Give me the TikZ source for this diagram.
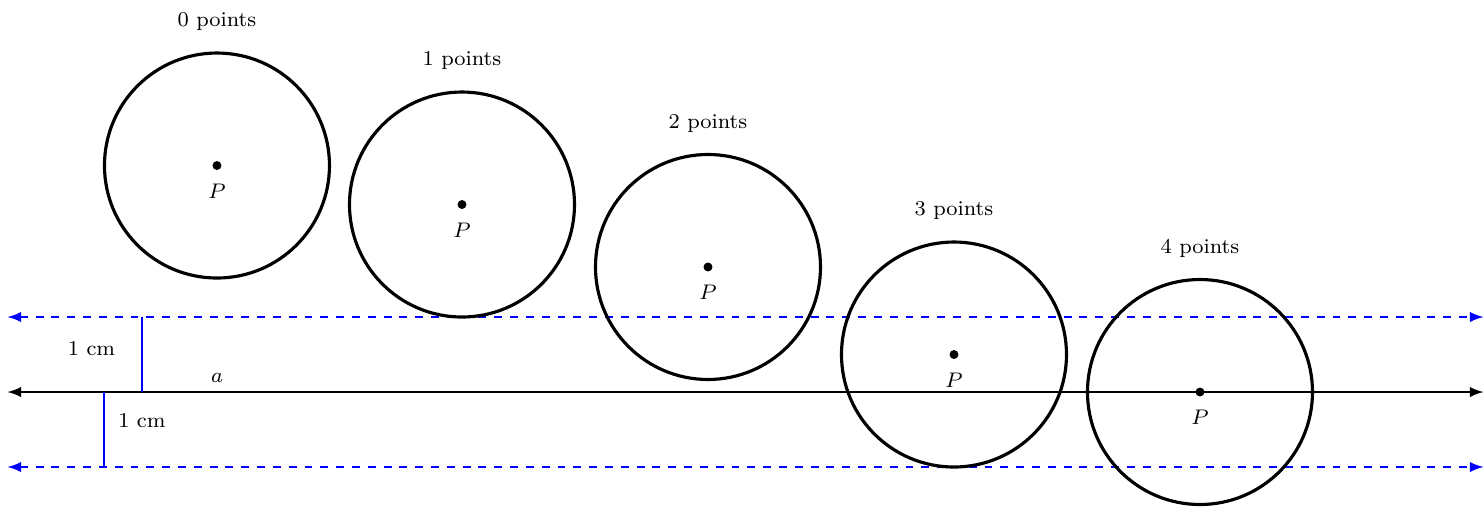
\documentclass[tikz,border=0pt]{standalone}
\usepackage{xcolor}
\usepackage{tikz}
\usetikzlibrary{positioning}
\definecolor{guideblue}{HTML}{0000FF}
\newcommand{\pointcount}[1]{{\footnotesize #1 points}}
\tikzset{
  ring/.style={draw, circle, line width=1.2pt, minimum size=3cm, inner sep=0pt},
  centre/.style={fill, circle, inner sep=0pt, minimum size=3.4pt},
  tag/.style={font=\footnotesize, inner sep=2pt},
  axisline/.style={thick, latex-latex},
  offsetline/.style={guideblue, thick, dashed, latex-latex},
  gapline/.style={guideblue, thick},
}

\begin{document}
\begin{tikzpicture}
\useasboundingbox (0,-1.547) rectangle (19.787,5.227);

% line a and the two lines at distance 1 cm
\coordinate (aL) at (0.1,0);
\coordinate (aR) at (19.78,0);
\coordinate (uL) at (0.1,1);
\coordinate (uR) at (19.78,1);
\coordinate (dL) at (0.1,-1);
\coordinate (dR) at (19.78,-1);
\draw[axisline] (aL) -- (aR);
\draw[offsetline] (uL) -- (uR);
\draw[offsetline] (dL) -- (dR);
\node[tag] (alabel) at (2.893,0.19) {$a$};

% the two distance marks
\coordinate (gapUtop) at (1.893,1);
\coordinate (gapUbot) at (1.893,0);
\coordinate (gapDtop) at (1.387,0);
\coordinate (gapDbot) at (1.387,-1);
\draw[gapline] (gapUtop) -- (gapUbot);
\draw[gapline] (gapDtop) -- (gapDbot);
\node[tag] (gapUlabel) at (1.22,0.58) {1 cm};
\node[tag] (gapDlabel) at (1.893,-0.387) {1 cm};

% circles of radius 1.5 cm about P
\node[ring] (c0) at (2.893,3.02) {};
\node[centre] (p0) at (c0.center) {};
\node[tag, below=0.1cm of p0] (P0) {$P$};
\node[tag, above=0.2cm of c0] (n0) {\pointcount{0}};

\node[ring] (c1) at (6.16,2.5) {};
\node[centre] (p1) at (c1.center) {};
\node[tag, below=0.1cm of p1] (P1) {$P$};
\node[tag, above=0.2cm of c1] (n1) {\pointcount{1}};

\node[ring] (c2) at (9.44,1.667) {};
\node[centre] (p2) at (c2.center) {};
\node[tag, below=0.1cm of p2] (P2) {$P$};
\node[tag, above=0.2cm of c2] (n2) {\pointcount{2}};

\node[ring] (c3) at (12.72,0.5) {};
\node[centre] (p3) at (c3.center) {};
\node[tag, below=0.1cm of p3] (P3) {$P$};
\node[tag, above=0.2cm of c3] (n3) {\pointcount{3}};

\node[ring] (c4) at (16.0,0) {};
\node[centre] (p4) at (c4.center) {};
\node[tag, below=0.1cm of p4] (P4) {$P$};
\node[tag, above=0.2cm of c4] (n4) {\pointcount{4}};
\end{tikzpicture}
\end{document}
